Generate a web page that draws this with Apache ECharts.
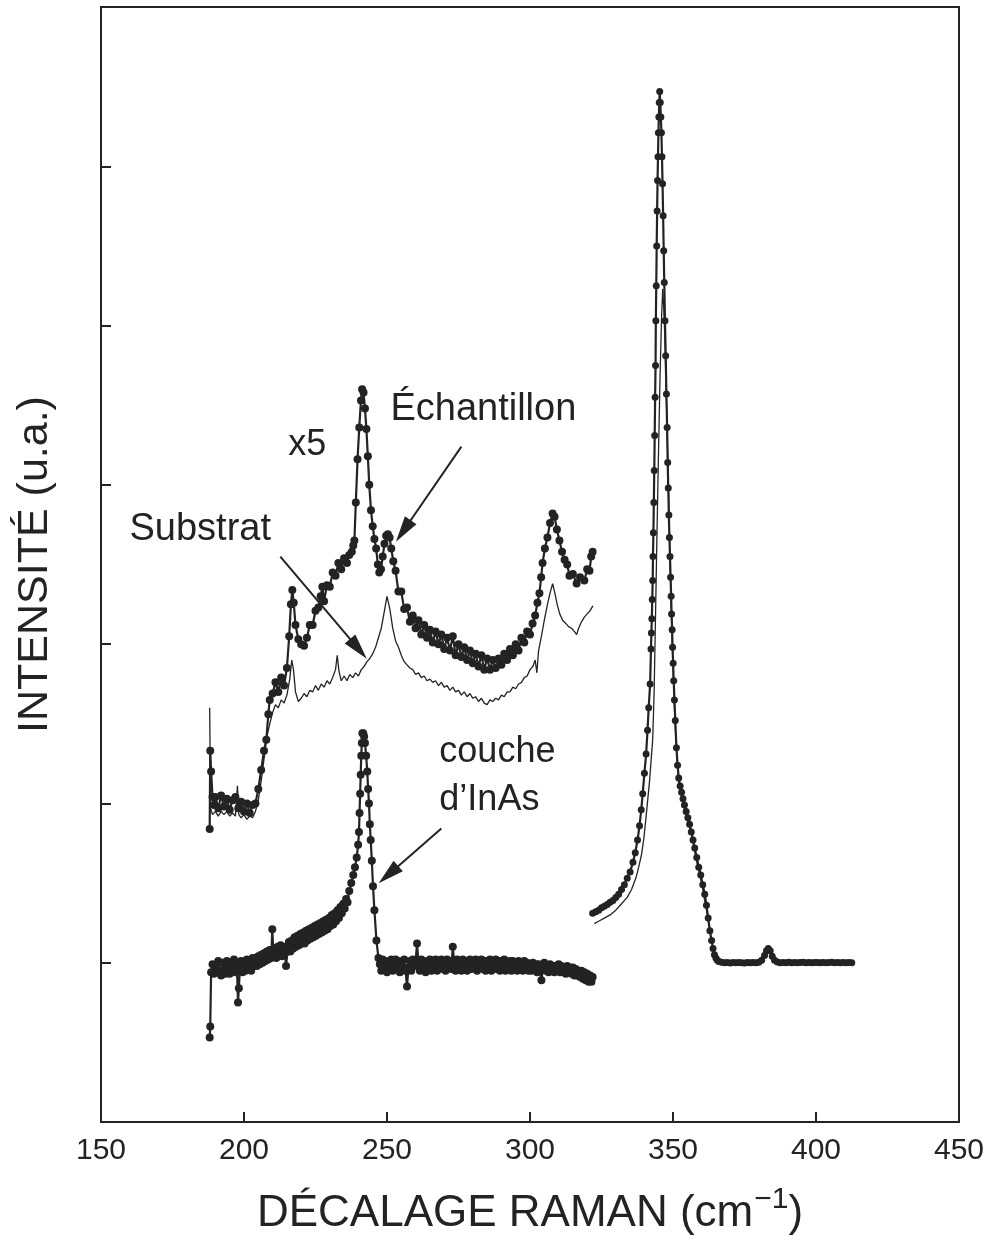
<!DOCTYPE html>
<html>
<head>
<meta charset="utf-8">
<title>Spectre Raman</title>
<script src="https://cdn.jsdelivr.net/npm/echarts/dist/echarts.min.js"></script>
<style>
  html, body { margin: 0; padding: 0; background: #ffffff; }
  #chart { width: 993px; height: 1245px; }
</style>
</head>
<body>
<div id="chart"></div>
<script>
// Axis ticks
const xTicks = [150, 200, 250, 300, 350, 400, 450];
const yTicks = [-1, 0, 1, 2, 3, 4, 5, 6];

// Échantillon, 188–322 cm-1, multiplied by 5 and offset (points + line)
const echantillonX5 = [
  [188.0, 0.84], [188.2, 1.33], [188.5, 1.20], [189.0, 1.04], [189.5, 0.99],
  [190, 1.04], [191, 0.97], [192, 1.05], [193, 0.98], [194, 1.03], [195, 0.96],
  [196, 1.02], [197, 1.04], [198, 0.97], [199, 1.01], [200, 0.95], [201, 1.00],
  [202, 0.94], [203, 0.99], [204, 1.00], [205, 1.09], [206, 1.21], [207, 1.33],
  [207.8, 1.40], [208.5, 1.56], [209, 1.65], [210, 1.69], [211, 1.76], [212, 1.70],
  [213, 1.79], [214, 1.74], [215, 1.85], [215.8, 2.05], [216.4, 2.25], [216.9, 2.34],
  [217.4, 2.26], [218, 2.12], [219, 2.03], [220, 2.00], [221, 1.99], [222, 2.04],
  [223, 2.12], [224, 2.12], [225, 2.21], [226, 2.23], [226.8, 2.30], [227.4, 2.36],
  [228, 2.27], [229, 2.37], [230, 2.36], [231, 2.45], [232, 2.43], [233, 2.51],
  [234, 2.47], [235, 2.54], [236, 2.51], [236.8, 2.56], [237.7, 2.58], [238.2, 2.62],
  [238.6, 2.65], [239.1, 2.89], [239.7, 3.16], [240.3, 3.36], [240.9, 3.53],
  [241.3, 3.60], [241.8, 3.58], [242.3, 3.48], [242.8, 3.35], [243.3, 3.18],
  [243.8, 3.00], [244.4, 2.84], [245.0, 2.74], [245.6, 2.66], [246.2, 2.60],
  [246.8, 2.50], [247.3, 2.45], [247.9, 2.47], [248.5, 2.55], [249.1, 2.63],
  [249.7, 2.68], [250.3, 2.69], [250.9, 2.67], [251.5, 2.60], [252.2, 2.52],
  [253, 2.46], [254, 2.33], [255, 2.33], [256, 2.22], [257, 2.23], [258, 2.14],
  [259, 2.18], [260, 2.10], [261, 2.15], [262, 2.06], [263, 2.12], [264, 2.04],
  [265, 2.09], [266, 2.01], [267, 2.08], [268, 2.00], [269, 2.06], [270, 1.97],
  [271, 2.04], [272, 1.96], [273, 2.05], [274, 1.93], [275, 2.00], [276, 1.92],
  [277, 1.98], [278, 1.90], [279, 1.96], [280, 1.88], [281, 1.94], [282, 1.86],
  [283, 1.93], [284, 1.84], [285, 1.91], [286, 1.84], [287, 1.90], [288, 1.85],
  [289, 1.91], [290, 1.87], [291, 1.94], [292, 1.90], [293, 1.97], [294, 1.93],
  [295, 2.00], [296, 1.96], [297, 2.04], [298, 2.01], [299, 2.08], [300, 2.06],
  [300.9, 2.13], [301.8, 2.18], [302.6, 2.26], [303.3, 2.32], [303.9, 2.42],
  [304.4, 2.51], [305.2, 2.60], [306.1, 2.67], [307.0, 2.76], [307.9, 2.82],
  [308.6, 2.80], [309.4, 2.72], [310.3, 2.65], [311.2, 2.58], [312.1, 2.53],
  [313, 2.50], [313.8, 2.43], [315, 2.44], [316.3, 2.38], [317.5, 2.42],
  [319, 2.40], [320, 2.47], [320.8, 2.46], [321.4, 2.55], [321.9, 2.58]
];

// Substrat, 188–322 cm-1, multiplied by 5 and offset (thin line)
const substratX5 = [
  [188.0, 1.60], [188.3, 0.97], [189, 0.93], [190, 0.95], [191, 0.92], [192, 0.95],
  [193, 0.93], [194, 0.95], [195, 0.92], [196, 0.94], [197, 0.92], [197.7, 1.11],
  [198.2, 0.93], [199, 0.91], [200, 0.93], [201, 0.90], [202, 0.92], [203, 0.91],
  [204, 0.95], [205, 1.02], [206, 1.14], [207, 1.28], [208, 1.42], [209, 1.50],
  [210, 1.57], [211, 1.62], [212, 1.60], [213, 1.65], [214, 1.63], [215, 1.68],
  [216, 1.78], [216.7, 1.90], [217.3, 1.84], [218, 1.70], [219, 1.64], [220, 1.66],
  [221, 1.69], [222, 1.67], [223, 1.71], [224, 1.70], [225, 1.74], [226, 1.71],
  [227, 1.75], [228, 1.73], [229, 1.77], [230, 1.75], [231, 1.79], [232, 1.84],
  [232.6, 1.93], [233.2, 1.83], [234, 1.77], [235, 1.80], [236, 1.77], [237, 1.81],
  [238, 1.79], [239, 1.82], [240, 1.80], [241, 1.84], [242, 1.86], [243, 1.89],
  [244, 1.91], [245, 1.94], [246, 1.98], [247, 2.04], [248, 2.10], [249, 2.20],
  [250, 2.30], [251, 2.22], [252, 2.10], [253, 2.02], [254, 1.98], [255, 1.93],
  [256, 1.89], [257, 1.87], [258, 1.85], [259, 1.84], [260, 1.81], [261, 1.82],
  [262, 1.79], [263, 1.80], [264, 1.77], [265, 1.78], [266, 1.76], [267, 1.77],
  [268, 1.74], [269, 1.76], [270, 1.73], [271, 1.74], [272, 1.71], [273, 1.73],
  [274, 1.70], [275, 1.71], [276, 1.68], [277, 1.70], [278, 1.67], [279, 1.69],
  [280, 1.66], [281, 1.67], [282, 1.64], [283, 1.66], [284, 1.63], [285, 1.62],
  [286, 1.65], [287, 1.64], [288, 1.66], [289, 1.65], [290, 1.68], [291, 1.67],
  [292, 1.70], [293, 1.70], [294, 1.73], [295, 1.72], [296, 1.75], [297, 1.76],
  [298, 1.79], [299, 1.80], [300, 1.84], [301, 1.86], [301.8, 1.90], [302.4, 1.82],
  [303, 1.96], [304, 2.05], [305, 2.15], [306, 2.24], [307, 2.32], [307.9, 2.38],
  [308.7, 2.32], [309.5, 2.25], [310.4, 2.19], [311.4, 2.15], [312.5, 2.13],
  [313.5, 2.11], [314.5, 2.10], [315.5, 2.08], [316.3, 2.06], [317, 2.10],
  [318, 2.14], [319, 2.17], [320, 2.19], [321, 2.21], [322, 2.24]
];

// Couche d'InAs (difference spectrum), 188–322 cm-1
const coucheInAs = [
  [188.0, -0.47], [188.2, -0.40], [188.5, -0.06], [189, -0.01], [189.5, -0.07],
  [190, -0.02], [190.5, -0.06], [191, 0.01], [191.5, -0.05], [192, -0.08], [192.5, 0.00],
  [193, -0.04], [193.5, -0.07], [194, 0.01], [194.5, -0.03], [195, -0.07], [195.5, 0.00],
  [196, -0.05], [196.5, 0.02], [197, -0.06], [197.5, -0.01], [197.9, -0.25], [198.2, -0.16],
  [198.6, -0.03], [199, 0.01], [199.5, -0.06], [200, -0.01], [200.5, -0.05], [201, 0.02],
  [201.5, -0.04], [202, 0.01], [202.5, -0.05], [203, 0.03], [203.5, -0.02], [204, 0.03],
  [204.5, -0.02], [205, 0.04], [205.5, -0.01], [206, 0.05], [206.5, 0.00], [207, 0.06],
  [207.5, 0.01], [208, 0.07], [208.5, 0.02], [209, 0.08], [209.5, 0.03], [209.9, 0.21],
  [210.3, 0.04], [210.8, 0.09], [211.3, 0.03], [211.8, 0.10], [212.3, 0.05], [212.8, 0.11],
  [213.3, 0.04], [213.8, 0.10], [214.3, 0.06], [214.7, -0.02], [215.2, 0.07], [215.7, 0.13],
  [216.2, 0.07], [216.7, 0.14], [217.2, 0.09], [217.7, 0.16], [218.2, 0.10], [218.7, 0.17],
  [219.2, 0.11], [219.7, 0.18], [220.2, 0.12], [220.7, 0.19], [221.2, 0.12], [221.7, 0.20],
  [222.2, 0.14], [222.7, 0.21], [223.2, 0.15], [223.7, 0.22], [224.2, 0.16], [224.7, 0.23],
  [225.2, 0.17], [225.7, 0.24], [226.2, 0.18], [226.7, 0.25], [227.2, 0.19], [227.7, 0.26],
  [228.2, 0.20], [228.7, 0.27], [229.2, 0.21], [229.7, 0.28], [230.2, 0.23], [230.7, 0.30],
  [231.2, 0.24], [231.7, 0.31], [232.2, 0.26], [232.7, 0.33], [233.2, 0.28], [233.7, 0.35],
  [234.2, 0.31], [234.7, 0.37], [235.2, 0.34], [235.7, 0.40], [236.2, 0.38], [236.8, 0.45],
  [237.5, 0.50], [238.2, 0.55], [238.8, 0.60], [239.4, 0.66], [239.9, 0.74], [240.2, 0.82],
  [240.4, 0.94], [240.6, 1.06], [240.8, 1.18], [241.0, 1.30], [241.2, 1.38],
  [241.4, 1.44], [241.7, 1.44], [242.0, 1.42], [242.3, 1.38], [242.7, 1.30],
  [243.1, 1.20], [243.4, 1.09], [243.7, 1.00], [244.0, 0.87], [244.3, 0.77],
  [244.7, 0.64], [245.1, 0.48], [245.6, 0.33], [246.3, 0.14], [247.0, 0.03],
  [247.5, -0.01], [248, -0.05], [248.5, 0.02], [249, -0.03], [249.5, 0.01], [250, -0.06],
  [250.5, 0.00], [251, -0.04], [251.5, 0.02], [252, -0.05], [252.5, -0.01], [253, 0.02],
  [253.5, -0.04], [254, 0.01], [254.5, -0.06], [255, 0.00], [255.5, -0.03], [256, 0.02],
  [256.5, -0.05], [257, -0.15], [257.5, -0.03], [258, 0.01], [258.5, -0.05], [259, 0.02],
  [259.5, -0.02], [260, 0.01], [260.5, 0.12], [261, 0.00], [261.5, -0.05], [262, 0.02],
  [262.5, -0.03], [263, 0.01], [263.5, -0.06], [264, 0.00], [264.5, -0.03], [265, 0.02],
  [265.5, -0.05], [266, 0.01], [266.5, -0.02], [267, 0.02], [267.5, -0.05], [268, 0.00],
  [268.5, -0.04], [269, 0.02], [269.5, -0.02], [270, 0.01], [270.5, -0.05], [271, 0.02],
  [271.5, -0.03], [272, 0.01], [272.5, -0.04], [273, 0.10], [273.5, 0.00], [274, -0.05],
  [274.5, 0.02], [275, -0.03], [275.5, 0.01], [276, -0.05], [276.5, 0.02], [277, -0.02],
  [277.5, 0.01], [278, -0.05], [278.5, 0.00], [279, 0.02], [279.5, -0.04], [280, 0.01],
  [280.5, -0.03], [281, 0.02], [281.5, -0.05], [282, 0.00], [282.5, -0.03], [283, 0.02],
  [283.5, -0.04], [284, 0.01], [284.5, -0.05], [285, 0.01], [285.5, -0.02], [286, 0.02],
  [286.5, -0.05], [287, 0.00], [287.5, -0.03], [288, 0.02], [288.5, -0.04], [289, 0.01],
  [289.5, -0.05], [290, 0.01], [290.5, -0.02], [291, 0.02], [291.5, -0.05], [292, 0.00],
  [292.5, -0.03], [293, 0.01], [293.5, -0.05], [294, 0.01], [294.5, -0.03], [295, 0.00],
  [295.5, -0.05], [296, 0.01], [296.5, -0.03], [297, 0.00], [297.5, -0.05], [298, 0.01],
  [298.5, -0.04], [299, 0.00], [299.5, -0.05], [300, -0.01], [300.5, -0.05], [301, 0.00],
  [301.5, -0.04], [302, -0.01], [302.5, -0.06], [303, -0.01], [303.5, -0.05], [304, -0.11],
  [304.5, -0.03], [305, 0.00], [305.5, -0.05], [306, -0.02], [306.5, -0.06], [307, -0.01],
  [307.5, -0.05], [308, -0.02], [308.5, -0.06], [309, -0.02], [309.5, -0.05], [310, -0.01],
  [310.5, -0.06], [311, -0.02], [311.5, -0.05], [312, -0.03], [312.5, -0.07], [313, -0.02],
  [313.5, -0.06], [314, -0.03], [314.5, -0.07], [315, -0.03], [315.5, -0.08], [316, -0.04],
  [316.5, -0.08], [317, -0.05], [317.5, -0.09], [318, -0.05], [318.5, -0.10], [319, -0.06],
  [319.5, -0.11], [320, -0.07], [320.5, -0.12], [321, -0.08], [321.5, -0.12], [321.9, -0.09]
];

// Échantillon, 322–412 cm-1, unscaled (points + line)
const echantillon1x = [
  [321.9, 0.31], [323, 0.32], [324, 0.33], [325, 0.345], [326, 0.355], [327, 0.365],
  [328, 0.38], [329, 0.39], [330, 0.41], [331, 0.43], [332, 0.46], [333, 0.49],
  [334, 0.53], [335, 0.57], [336, 0.63], [336.8, 0.69], [337.6, 0.77], [338.3, 0.86],
  [338.9, 0.96], [339.4, 1.06], [340.0, 1.19], [340.6, 1.31], [341.1, 1.46],
  [341.5, 1.60], [342.0, 1.75], [342.3, 1.97], [342.45, 2.07], [342.6, 2.16],
  [342.75, 2.28], [342.9, 2.40], [343.0, 2.55], [343.15, 2.70], [343.3, 2.89],
  [343.45, 3.09], [343.6, 3.31], [343.75, 3.55], [343.9, 3.75], [344.0, 4.03],
  [344.15, 4.25], [344.3, 4.50], [344.45, 4.72], [344.6, 4.91], [344.75, 5.06],
  [344.9, 5.21], [345.05, 5.31], [345.2, 5.40], [345.35, 5.47], [345.55, 5.40],
  [345.75, 5.31], [345.95, 5.21], [346.15, 5.06], [346.35, 4.89], [346.55, 4.69],
  [346.75, 4.47], [346.95, 4.27], [347.2, 4.03], [347.45, 3.81], [347.7, 3.57],
  [347.95, 3.36], [348.15, 3.14], [348.35, 2.98], [348.55, 2.81], [348.75, 2.67],
  [348.95, 2.55], [349.15, 2.42], [349.35, 2.30], [349.5, 2.19], [349.7, 2.09],
  [349.85, 1.98], [350.05, 1.88], [350.25, 1.77], [350.5, 1.65], [350.8, 1.52],
  [351.2, 1.35], [351.6, 1.24], [352.0, 1.16], [352.5, 1.11], [353, 1.07],
  [353.5, 1.03], [354, 0.99], [354.6, 0.95], [355.2, 0.91], [355.8, 0.87],
  [356.4, 0.82], [357, 0.77], [357.6, 0.72], [358.3, 0.66], [359, 0.60],
  [359.7, 0.55], [360.4, 0.49], [361.1, 0.43], [361.7, 0.36], [362.3, 0.28],
  [362.9, 0.20], [363.5, 0.14], [364, 0.09], [364.5, 0.05], [365, 0.03],
  [365.5, 0.015], [366, 0.008], [367, 0.003], [368, 0.000], [369, 0.002],
  [370, -0.002], [371, 0.001], [372, -0.001], [373, 0.002], [374, 0.000],
  [375, -0.002], [376, 0.001], [377, 0.000], [378, 0.002], [379, -0.001],
  [380, 0.003], [381, 0.015], [382, 0.045], [382.7, 0.075], [383.3, 0.09],
  [384, 0.075], [384.7, 0.04], [385.5, 0.015], [386.5, 0.005], [387.5, 0.000],
  [388.5, 0.002], [389.5, -0.001], [390.5, 0.003], [391.5, 0.000], [392.5, 0.002],
  [393.5, -0.001], [394.5, 0.001], [395.5, 0.003], [396.5, 0.000], [397.5, 0.002],
  [398.5, -0.001], [399.5, 0.001], [400.5, 0.002], [401.5, 0.000], [402.5, 0.002],
  [403.5, -0.001], [404.5, 0.001], [405.5, 0.003], [406.5, 0.000], [407.5, 0.001],
  [408.5, -0.001], [409.5, 0.002], [410.5, 0.000], [411.5, 0.001], [412.5, 0.000]
];

// Substrat, 322–412 cm-1, unscaled (thin line)
const substrat1x = [
  [322.5, 0.245], [324, 0.26], [326, 0.28], [328, 0.30], [330, 0.33], [332, 0.37],
  [334, 0.41], [335.5, 0.46], [337, 0.53], [338, 0.60], [339, 0.68], [339.8, 0.78],
  [340.5, 0.90], [341.2, 1.03], [341.8, 1.14], [342.3, 1.26], [342.9, 1.40],
  [343.4, 1.70], [343.9, 2.19], [344.4, 2.70], [344.95, 3.22], [345.5, 3.70],
  [346.0, 4.05], [346.4, 4.23], [346.8, 4.10], [347.2, 3.90], [347.6, 3.60],
  [348.0, 3.30], [348.5, 2.90], [349.0, 2.50], [349.5, 2.15], [350, 1.85],
  [350.5, 1.60], [351, 1.40], [352, 1.12], [353.5, 1.00], [355, 0.90], [356.5, 0.80],
  [358, 0.66], [360, 0.50], [362, 0.30], [363.5, 0.13], [365, 0.03], [366.5, 0.005],
  [370, 0.000], [375, 0.000], [380, 0.000], [382, 0.05], [383.3, 0.08], [385, 0.03],
  [387, 0.000], [395, 0.000], [405, 0.000], [412, 0.000]
];

const INK = '#232323';
const FONT = '"Liberation Sans", Arial, Helvetica, sans-serif';

const chart = echarts.init(document.getElementById('chart'), null, { renderer: 'canvas' });

// Annotation layout, in data units
const notes = [
  { text: 'x5',          at: [222.1, 3.25], align: 'center', size: 36 },
  { text: 'Échantillon', at: [283.7, 3.47], align: 'center', size: 38 },
  { text: 'Substrat',    at: [184.7, 2.72], align: 'center', size: 38 },
  { text: 'couche',      at: [268.3, 1.32], align: 'left',   size: 36 },
  { text: 'd\u2019InAs', at: [268.3, 1.02], align: 'left',   size: 36 }
];
const arrows = [
  [[276.0, 3.24], [255.7, 2.71]],
  [[212.7, 2.55], [240.0, 1.97]],
  [[269.0, 0.843], [250.5, 0.553]]
];

const dotted = (name, data, size) => ({
  name, type: 'line', data, z: 3,
  symbol: 'circle', symbolSize: size, showAllSymbol: true,
  itemStyle: { color: INK },
  lineStyle: { color: INK, width: 2.2 },
  emphasis: { disabled: true }, animation: false
});
const thin = (name, data) => ({
  name, type: 'line', data, z: 2,
  symbol: 'none',
  lineStyle: { color: INK, width: 1.3 },
  emphasis: { disabled: true }, animation: false
});

chart.setOption({
  animation: false,
  backgroundColor: '#ffffff',
  grid: {
    left: 101, right: 34, top: 7, bottom: 123,
    show: true, borderColor: INK, borderWidth: 2, containLabel: false
  },
  xAxis: {
    type: 'value', min: 150, max: 450, interval: 50,
    axisLine: { onZero: false, lineStyle: { color: INK, width: 2 } },
    axisTick: { inside: true, length: 10, lineStyle: { color: INK, width: 2 } },
    axisLabel: {
      color: INK, fontSize: 30, fontFamily: FONT, margin: 14,
      formatter: v => (xTicks.includes(v) ? String(v) : '')
    },
    splitLine: { show: false },
    name: '{t|DÉCALAGE RAMAN (cm}{s|\u22121}{t|)}',
    nameLocation: 'middle', nameGap: 63,
    nameTextStyle: {
      rich: {
        t: { fontSize: 44, fontFamily: FONT, color: INK, lineHeight: 58 },
        s: { fontSize: 30, fontFamily: FONT, color: INK, lineHeight: 12, verticalAlign: 'top', padding: [0, 0, 0, 1] }
      }
    }
  },
  yAxis: {
    type: 'value', min: yTicks[0], max: yTicks[yTicks.length - 1], interval: 1,
    axisLine: { onZero: false, lineStyle: { color: INK, width: 2 } },
    axisTick: { inside: true, length: 10, lineStyle: { color: INK, width: 2 } },
    axisLabel: { show: false },
    splitLine: { show: false },
    name: 'INTENSITÉ (u.a.)',
    nameLocation: 'middle', nameRotate: 90, nameGap: 44,
    nameTextStyle: { fontSize: 43, fontFamily: FONT, color: INK }
  },
  series: [
    thin('Substrat x5', substratX5),
    thin('Substrat', substrat1x),
    dotted('Échantillon x5', echantillonX5, 8),
    dotted("Couche d'InAs", coucheInAs, 8),
    dotted('Échantillon', echantillon1x, 7),
    {
      name: 'annotations', type: 'line', data: [], z: 4,
      markLine: {
        silent: true, animation: false,
        symbol: ['none', 'path://M7,0 L14,26 L0,26 Z'], symbolSize: 26, symbolKeepAspect: true,
        label: { show: false },
        itemStyle: { color: INK },
        lineStyle: { color: INK, width: 2, type: 'solid' },
        emphasis: { disabled: true },
        data: arrows.map(([a, b]) => [{ coord: a }, { coord: b }])
      }
    }
  ]
});

// Text annotations, placed through the grid's coordinate system
chart.setOption({
  graphic: notes.map(n => {
    const p = chart.convertToPixel({ gridIndex: 0 }, n.at);
    return {
      type: 'text', x: p[0], y: p[1], z: 10, silent: true,
      style: {
        text: n.text, fill: INK, font: n.size + 'px ' + FONT,
        textAlign: n.align, textVerticalAlign: 'middle'
      }
    };
  })
});
</script>
</body>
</html>
